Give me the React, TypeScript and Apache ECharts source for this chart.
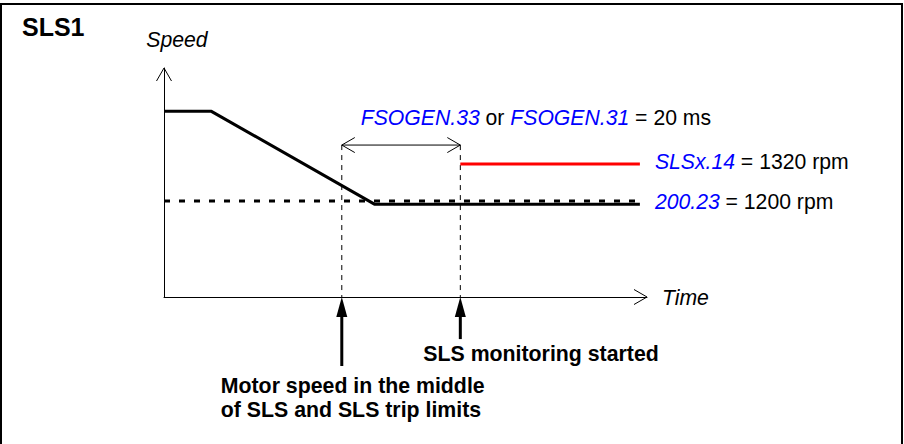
import React, { useEffect, useRef } from 'react';
import * as echarts from 'echarts';

// ---------- data ----------
const titleText = 'SLS1';
const speedAxisName = 'Speed';
const timeAxisName = 'Time';

// axis ranges (time in ms, speed in rpm)
const timeRange = [0, 81.5];
const speedRange = [890, 1630];

// motor speed profile
const motorTime = [0, 8, 35.5, 80.3];
const motorSpeed = [1490, 1490, 1190, 1190];

// SLS limit (200.23) and SLS trip limit (SLSx.14)
const slsLimitTime = [0, 80.3];
const slsLimitSpeed = [1200, 1200];
const tripLimitTime = [50, 80.3];
const tripLimitSpeed = [1320, 1320];

// events: motor speed in the middle of limits / SLS monitoring started
const eventTime = [30, 50];
const intervalLevel = 1381;
const eventArrowEnd = [667, 754];
const eventLabels = [
  'Motor speed in the middle\nof SLS and SLS trip limits',
  'SLS monitoring started',
];

const intervalParams = ['FSOGEN.33', 'FSOGEN.31'];
const intervalValue = '20 ms';
const tripParam = 'SLSx.14';
const tripValue = '1320 rpm';
const slsParam = '200.23';
const slsValue = '1200 rpm';

// ---------- styles ----------
const FONT = "'Liberation Sans', Arial, Helvetica, sans-serif";
const BLUE = '#0000ff';
const RED = '#ff0000';
const BLACK = '#000000';
const FS = 21.2;
const FS_BOLD = 21.3;

function vHead(px: number, py: number, angDeg: number, len = 13, half = 7.5) {
  const a = (angDeg * Math.PI) / 180;
  const dx = Math.cos(a);
  const dy = -Math.sin(a);
  const nx = -dy;
  const ny = dx;
  return {
    type: 'polyline',
    shape: {
      points: [
        [px - len * dx + half * nx, py - len * dy + half * ny],
        [px, py],
        [px - len * dx - half * nx, py - len * dy - half * ny],
      ],
    },
    style: { stroke: BLACK, lineWidth: 1, fill: 'none' },
  };
}

const zip = (xs: number[], ys: number[]) => xs.map((x, i) => [x, ys[i]]);

const richParam = { p: { color: BLUE, fill: BLUE, fontStyle: 'italic', fontSize: FS, fontFamily: FONT } };

const option: any = {
  animation: false,
  backgroundColor: '#ffffff',
  grid: { left: 164, top: 68, right: 257, bottom: 147, outerBoundsMode: 'none', containLabel: false },
  xAxis: {
    type: 'value',
    min: timeRange[0],
    max: timeRange[1],
    name: timeAxisName,
    nameLocation: 'end',
    nameGap: 15,
    nameTextStyle: {
      fontSize: FS, fontStyle: 'italic', fontFamily: FONT, color: BLACK,
      align: 'left', verticalAlign: 'middle', padding: [0, 0, 6, 0],
    },
    axisLine: { show: true, onZero: false, lineStyle: { color: BLACK, width: 1 } },
    axisTick: { show: false },
    axisLabel: { show: false },
    splitLine: { show: false },
  },
  yAxis: {
    type: 'value',
    min: speedRange[0],
    max: speedRange[1],
    name: speedAxisName,
    nameLocation: 'end',
    nameGap: 29,
    nameTextStyle: {
      fontSize: FS, fontStyle: 'italic', fontFamily: FONT, color: BLACK,
      align: 'center', verticalAlign: 'middle', padding: [0, 0, 0, 26],
    },
    axisLine: { show: true, onZero: false, lineStyle: { color: BLACK, width: 1 } },
    axisTick: { show: false },
    axisLabel: { show: false },
    splitLine: { show: false },
  },
  graphic: [
    {
      type: 'rect',
      silent: true,
      shape: { x: 1, y: 4, width: 901, height: 460 },
      style: { fill: 'none', stroke: BLACK, lineWidth: 2 },
    },
    {
      type: 'text',
      silent: true,
      x: 22,
      y: 26.5,
      style: {
        text: titleText, fontSize: 25, fontWeight: 'bold', fontFamily: FONT,
        fill: BLACK, verticalAlign: 'middle', align: 'left',
      },
    },
  ],
  series: [
    {
      name: 'SLS limit',
      type: 'line',
      data: zip(slsLimitTime, slsLimitSpeed),
      symbol: 'none',
      silent: true,
      lineStyle: { color: BLACK, width: 3, type: [6, 9] },
      endLabel: {
        show: true,
        distance: 15,
        formatter: () => `{p|${slsParam}} = ${slsValue}`,
        color: BLACK,
        fontSize: FS,
        fontFamily: FONT,
        rich: richParam,
      },
      z: 2,
    },
    {
      name: 'Motor speed',
      type: 'line',
      data: zip(motorTime, motorSpeed),
      symbol: 'none',
      silent: true,
      lineStyle: { color: BLACK, width: 3 },
      z: 3,
    },
    {
      name: 'SLS trip limit',
      type: 'line',
      data: zip(tripLimitTime, tripLimitSpeed),
      symbol: 'none',
      silent: true,
      lineStyle: { color: RED, width: 3 },
      endLabel: {
        show: true,
        distance: 15,
        offset: [0, -2.5],
        formatter: () => `{p|${tripParam}} = ${tripValue}`,
        color: BLACK,
        fontSize: FS,
        fontFamily: FONT,
        rich: richParam,
      },
      z: 3,
    },
    {
      name: 'Guides',
      type: 'custom',
      coordinateSystem: 'cartesian2d',
      clip: false,
      silent: true,
      data: eventTime.map((t) => [t, intervalLevel]),
      encode: { x: 0, y: 1 },
      renderItem: (params: any, api: any) => {
        const top = api.coord([api.value(0), api.value(1)]);
        const bot = api.coord([api.value(0), speedRange[0]]);
        return {
          type: 'line',
          shape: { x1: top[0], y1: top[1], x2: bot[0], y2: bot[1] },
          style: { stroke: BLACK, lineWidth: 1, lineDash: [5, 5], fill: 'none' },
        };
      },
      z: 1,
    },
    {
      name: 'Interval',
      type: 'custom',
      coordinateSystem: 'cartesian2d',
      clip: false,
      silent: true,
      data: [[eventTime[0], intervalLevel, eventTime[1]]],
      encode: { x: [0, 2], y: 1 },
      renderItem: (params: any, api: any) => {
        const a = api.coord([api.value(0), api.value(1)]);
        const b = api.coord([api.value(2), api.value(1)]);
        return {
          type: 'group',
          children: [
            {
              type: 'line',
              shape: { x1: a[0], y1: a[1], x2: b[0], y2: b[1] },
              style: { stroke: BLACK, lineWidth: 1, fill: 'none' },
            },
            vHead(a[0], a[1], 180),
            vHead(b[0], b[1], 0),
            {
              type: 'text',
              style: {
                x: a[0] + 19,
                y: a[1] - 27.5,
                text: `{p|${intervalParams[0]}} or {p|${intervalParams[1]}} = ${intervalValue}`,
                fill: BLACK,
                fontSize: FS,
                fontFamily: FONT,
                align: 'left',
                verticalAlign: 'middle',
                rich: { p: { fill: BLUE, fontStyle: 'italic', fontSize: FS, fontFamily: FONT } },
              },
            },
          ],
        };
      },
      z: 4,
    },
    {
      name: 'Axis arrows',
      type: 'custom',
      coordinateSystem: 'cartesian2d',
      clip: false,
      silent: true,
      data: [
        [timeRange[1], speedRange[0], 0],
        [timeRange[0], speedRange[1], 90],
      ],
      encode: { x: 0, y: 1 },
      renderItem: (params: any, api: any) => {
        const p = api.coord([api.value(0), api.value(1)]);
        return vHead(p[0], p[1], api.value(2));
      },
      z: 4,
    },
    {
      name: 'Events',
      type: 'custom',
      coordinateSystem: 'cartesian2d',
      clip: false,
      silent: true,
      data: eventTime.map((t, i) => [t, eventArrowEnd[i]]),
      encode: { x: 0, y: 1 },
      renderItem: (params: any, api: any) => {
        const i = params.dataIndex;
        const tip = api.coord([api.value(0), speedRange[0]]);
        const end = api.coord([api.value(0), api.value(1)]);
        const headLen = 20;
        const half = 5.5;
        const labelStyle =
          i === 0
            ? { x: end[0] - 121, y: end[1] + 8, verticalAlign: 'top', lineHeight: 24 }
            : { x: end[0] - 37, y: end[1] + 15, verticalAlign: 'middle', lineHeight: 24 };
        return {
          type: 'group',
          children: [
            {
              type: 'line',
              shape: { x1: tip[0], y1: tip[1] + headLen - 2, x2: end[0], y2: end[1] },
              style: { stroke: BLACK, lineWidth: 3, fill: 'none' },
            },
            {
              type: 'polygon',
              shape: {
                points: [
                  [tip[0], tip[1]],
                  [tip[0] - half, tip[1] + headLen],
                  [tip[0] + half, tip[1] + headLen],
                ],
              },
              style: { fill: BLACK, stroke: 'none' },
            },
            {
              type: 'text',
              style: {
                ...labelStyle,
                text: eventLabels[i],
                fill: BLACK,
                fontSize: FS_BOLD,
                fontWeight: 'bold',
                fontFamily: FONT,
                align: 'left',
              },
            },
          ],
        };
      },
      z: 4,
    },
  ],
};

export default function App() {
  const ref = useRef<HTMLDivElement>(null);
  useEffect(() => {
    if (!ref.current) return;
    const chart = echarts.init(ref.current, null, { renderer: 'svg' });
    chart.setOption(option);
    return () => chart.dispose();
  }, []);
  return (
    <div
      ref={ref}
      style={{ position: 'fixed', left: 0, top: 0, width: 904, height: 444, background: '#ffffff' }}
    />
  );
}
